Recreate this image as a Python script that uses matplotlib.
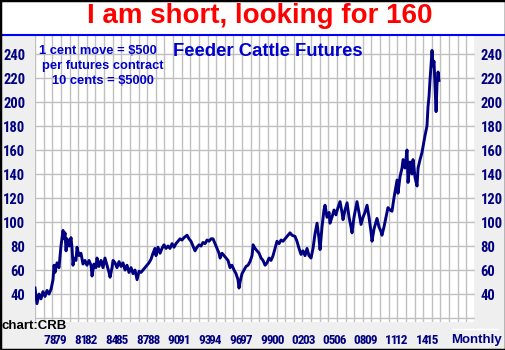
"""Feeder cattle futures, monthly, CRB style chart"""

import matplotlib
matplotlib.use('Agg')
from matplotlib import pyplot as plt
from matplotlib import font_manager
from matplotlib.patches import Rectangle
from matplotlib.lines import Line2D
import numpy as np

# Monthly closes (decimal year, cents/lb)
years = [
    1976.55, 1976.65, 1976.74, 1976.94, 1977.13, 1977.32, 1977.52, 1977.71, 1977.90, 1978.10,
    1978.29, 1978.39, 1978.48, 1978.68, 1978.87, 1978.97, 1979.06, 1979.26, 1979.35, 1979.45,
    1979.55, 1979.65, 1979.84, 1980.03, 1980.13, 1980.22, 1980.32, 1980.51, 1980.61, 1980.80,
    1980.99, 1981.19, 1981.38, 1981.57, 1981.77, 1981.96, 1982.06, 1982.25, 1982.44, 1982.54,
    1982.73, 1982.93, 1983.12, 1983.31, 1983.50, 1983.70, 1983.80, 1983.99, 1984.09, 1984.28,
    1984.47, 1984.67, 1984.86, 1985.05, 1985.25, 1985.44, 1985.63, 1985.83, 1986.02, 1986.21,
    1986.41, 1986.60, 1986.79, 1986.98, 1987.18, 1987.37, 1987.56, 1987.76, 1987.95, 1988.14,
    1988.24, 1988.43, 1988.63, 1988.82, 1989.01, 1989.21, 1989.40, 1989.59, 1989.79, 1989.98,
    1990.17, 1990.37, 1990.56, 1990.75, 1990.95, 1991.24, 1991.43, 1991.62, 1991.82, 1992.01,
    1992.20, 1992.40, 1992.59, 1992.78, 1992.98, 1993.17, 1993.36, 1993.56, 1993.75, 1993.94,
    1994.14, 1994.33, 1994.43, 1994.62, 1994.81, 1995.00, 1995.20, 1995.39, 1995.58, 1995.78,
    1995.97, 1996.16, 1996.26, 1996.36, 1996.55, 1996.74, 1996.94, 1997.13, 1997.32, 1997.52,
    1997.62, 1997.81, 1998.00, 1998.20, 1998.39, 1998.58, 1998.78, 1998.97, 1999.16, 1999.35,
    1999.55, 1999.74, 1999.93, 2000.13, 2000.32, 2000.51, 2000.71, 2000.90, 2001.19, 2001.38,
    2001.67, 2001.86, 2002.06, 2002.25, 2002.44, 2002.64, 2002.83, 2003.02, 2003.22, 2003.41,
    2003.60, 2003.80, 2003.99, 2004.09, 2004.28, 2004.47, 2004.57, 2004.76, 2004.96, 2005.05,
    2005.24, 2005.44, 2005.63, 2005.82, 2006.02, 2006.21, 2006.31, 2006.50, 2006.70, 2006.89,
    2007.08, 2007.18, 2007.37, 2007.66, 2007.85, 2008.05, 2008.24, 2008.43, 2008.63, 2008.82,
    2009.01, 2009.11, 2009.30, 2009.49, 2009.59, 2009.78, 2009.98, 2010.07, 2010.27, 2010.46,
    2010.65, 2010.85, 2011.04, 2011.23, 2011.43, 2011.53, 2011.62, 2011.82, 2012.01, 2012.11,
    2012.30, 2012.49, 2012.59, 2012.78, 2012.98, 2013.07, 2013.27, 2013.46, 2013.56, 2013.75,
    2013.94, 2014.04, 2014.23, 2014.42, 2014.52, 2014.62, 2014.71, 2014.81, 2014.91, 2015.00,
    2015.10, 2015.20, 2015.30, 2015.39, 2015.49, 2015.58,
]
prices = [
    45, 38, 32, 40, 36, 42, 38, 43, 40, 44,
    52, 64, 58, 66, 62, 72, 80, 93, 86, 91,
    76, 86, 80, 87, 78, 64, 70, 68, 79, 72,
    74, 65, 68, 64, 68, 64, 55, 65, 62, 70,
    63, 68, 62, 70, 64, 58, 54, 62, 68, 66,
    62, 67, 63, 66, 60, 64, 58, 62, 57, 60,
    52, 59, 58, 60, 62, 64, 66, 69, 74, 78,
    72, 79, 74, 78, 81, 78, 80, 78, 82, 79,
    82, 84, 86, 85, 87, 89, 86, 84, 80, 76,
    79, 81, 80, 83, 82, 85, 84, 86, 86, 82,
    78, 74, 70, 74, 72, 70, 68, 62, 64, 60,
    57, 52, 45, 50, 57, 60, 63, 64, 67, 72,
    81, 78, 76, 74, 70, 68, 64, 66, 70, 68,
    72, 78, 84, 82, 85, 84, 86, 88, 91, 89,
    88, 84, 78, 73, 76, 72, 78, 72, 70, 78,
    90, 99, 86, 77, 96, 110, 114, 104, 108, 99,
    104, 110, 106, 112, 117, 108, 102, 110, 116, 104,
    96, 91, 104, 117, 108, 98, 104, 108, 114, 104,
    92, 84, 94, 100, 103, 96, 92, 89, 96, 104,
    112, 110, 109, 120, 130, 135, 124, 138, 145, 152,
    145, 160, 133, 150, 140, 152, 137, 130, 145, 152,
    158, 163, 172, 180, 196, 205, 218, 230, 243, 230,
    234, 212, 192, 215, 225, 218,
]

# Year labels (every third year dropped, as on the chart)
label_years = [1978, 1979, 1981, 1982, 1984, 1985, 1987, 1988, 1990, 1991, 1993, 1994, 1996,
               1997, 1999, 2000, 2002, 2003, 2005, 2006, 2008, 2009, 2011, 2012, 2014, 2015]
label_text = ['%02d' % (y % 100) for y in label_years]
price_ticks = [40, 60, 80, 100, 120, 140, 160, 180, 200, 220, 240]
notes = ['1 cent move = $500', 'per futures contract', '10 cents = $5000']

names = sorted(font_manager.get_font_names())
wide = 'Liberation Sans' if 'Liberation Sans' in names else 'DejaVu Sans'
narrow = None
for cand in ['Liberation Sans Narrow', 'Arial Narrow', 'Roboto Condensed',
             'DejaVu Sans Condensed', 'Open Sans Condensed']:
    if cand in names:
        narrow = cand
        break
if narrow is None:
    for n in names:
        if 'Narrow' in n or 'Condensed' in n:
            narrow = n
            break
if narrow is None:
    narrow = wide
    xsize, ysize = 7.4, 9.5
else:
    xsize, ysize = 9.5, 10.5

W, H = 506, 350
fig = plt.figure(figsize=(W / 100, H / 100), dpi=100, facecolor='#EFEFEF')

# white title strip with blue rule under it
fig.patches.append(Rectangle((0, 1 - 35 / H), 1, 35 / H, transform=fig.transFigure,
                             facecolor='white', edgecolor='none', zorder=0))
fig.lines.append(Line2D([0, 1], [1 - 35 / H, 1 - 35 / H], transform=fig.transFigure,
                        color='#0000FF', lw=1.5))
fig.lines.append(Line2D([453 / W, 497 / W], [1 - 329 / H, 1 - 329 / H],
                        transform=fig.transFigure, color='white', lw=1))
fig.patches.append(Rectangle((0, 0), 1, 1, transform=fig.transFigure, facecolor='none',
                             edgecolor='black', lw=2.5, zorder=10))

ax = fig.add_axes([35 / W, 1 - 322 / H, 440 / W, 286 / H])
ax.set_facecolor('white')
ax.set_xlim(1976.55, 2019.06)
ax.set_ylim(16.7, 255)

# grid: every 20 cents, and every 10 months from the left edge
for v in range(20, 241, 20):
    ax.axhline(v, color='#C0C0C0', lw=1, zorder=1)
for g in np.arange(1976.55, 2019.1, 10 / 12):
    ax.axvline(g, color='#C0C0C0', lw=1, zorder=1)

ax.plot(years, prices, color='#000080', lw=2.1, zorder=3)

for s in ax.spines.values():
    s.set_visible(False)

ax.set_yticks(price_ticks)
ax.set_yticklabels([str(p) for p in price_ticks], fontfamily=narrow, fontweight='bold')
ax.tick_params(axis='y', length=0, pad=7, labelsize=ysize, labelcolor='#000080')
ax.set_xticks(label_years)
ax.set_xticklabels(label_text, fontfamily=narrow, fontweight='bold')
ax.tick_params(axis='x', length=0, pad=9, labelsize=xsize, labelcolor='#000080')

# right-hand price scale
ax2 = ax.twinx()
ax2.set_ylim(ax.get_ylim())
ax2.set_yticks(price_ticks)
ax2.set_yticklabels([str(p) for p in price_ticks], fontfamily=narrow, fontweight='bold')
ax2.tick_params(axis='y', length=0, pad=4, labelsize=ysize, labelcolor='#000080')
for s in ax2.spines.values():
    s.set_visible(False)

# texts
fig.text(260 / W, 1 - 16 / H, 'I am short, looking for 160', color='#FF0000', fontsize=20,
         fontweight='bold', family=wide, ha='center', va='center')
fig.text(268 / W, 1 - 51.5 / H, 'Feeder Cattle Futures', color='#0000CC', fontsize=13.3,
         fontweight='bold', family=wide, ha='center', va='center')
for i, (line, cx) in enumerate(zip(notes, [98, 103, 103])):
    fig.text(cx / W, 1 - (51.5 + 15 * i) / H, line, color='#0000CC', fontsize=9.3,
             fontweight='bold', family=wide, ha='center', va='center')
fig.text(2 / W, 1 - 326 / H, 'chart:CRB', color='black', fontsize=9.5, fontweight='bold',
         family=wide, ha='left', va='center')
fig.text(477 / W, 1 - 340 / H, 'Monthly', color='#000080', fontsize=9.5, fontweight='bold',
         family=wide, ha='center', va='center')

fig.savefig('out.png', dpi=100, facecolor=fig.get_facecolor())
